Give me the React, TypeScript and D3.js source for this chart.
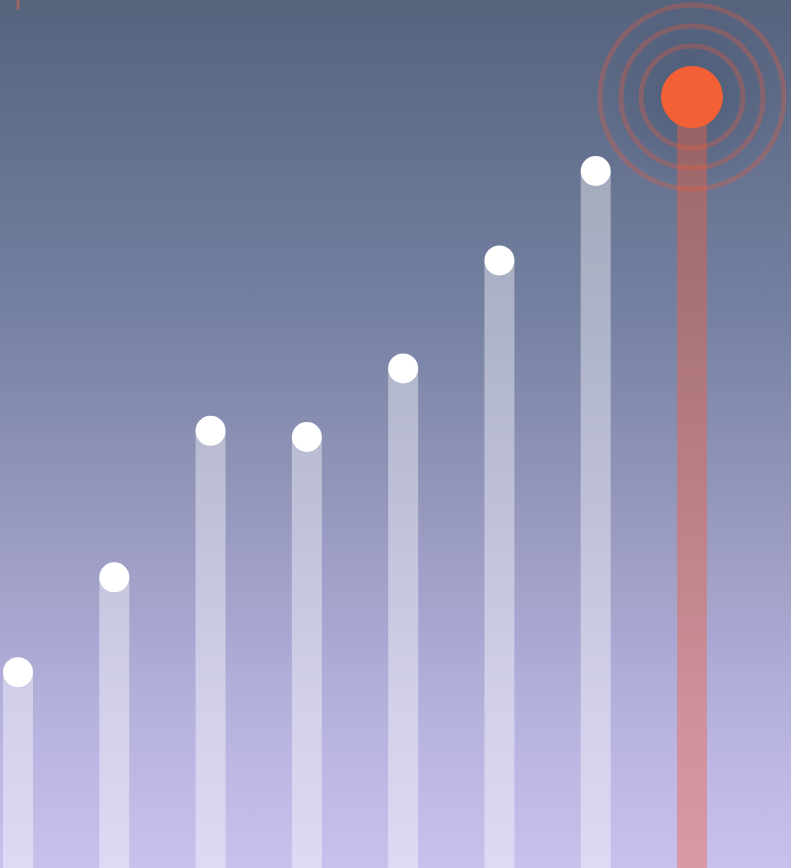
import React, { useEffect, useRef } from 'react';
import * as d3 from 'd3';

// data
const categories = ['A', 'B', 'C', 'D', 'E', 'F', 'G', 'H'];
const values = [25.4, 37.7, 56.7, 55.9, 64.8, 78.8, 90.4, 100];
const highlight = 'H';
const ringRadii = [51, 71, 92];

const W = 791;
const H = 868;

const App = () => {
    const ref = useRef<SVGSVGElement | null>(null);

    useEffect(() => {
        const svg = d3.select(ref.current);
        svg.selectAll('*').remove();

        const defs = svg.append('defs');
        const bg = defs.append('linearGradient').attr('id', 'bg')
            .attr('x1', 0).attr('y1', 0).attr('x2', 0).attr('y2', 1);
        bg.append('stop').attr('offset', '0%').attr('stop-color', '#55637d');
        bg.append('stop').attr('offset', '35%').attr('stop-color', '#7480a0');
        bg.append('stop').attr('offset', '58%').attr('stop-color', '#9597bd');
        bg.append('stop').attr('offset', '81%').attr('stop-color', '#b4b0dc');
        bg.append('stop').attr('offset', '100%').attr('stop-color', '#c8c1ee');

        const glow = defs.append('radialGradient').attr('id', 'glow');
        glow.append('stop').attr('offset', '0%').attr('stop-color', '#3c4a64').attr('stop-opacity', 0.45);
        glow.append('stop').attr('offset', '100%').attr('stop-color', '#3c4a64').attr('stop-opacity', 0);

        svg.append('rect').attr('width', W).attr('height', H).attr('fill', 'url(#bg)');

        const x = d3.scalePoint<string>().domain(categories).range([18, 692]);
        const y = d3.scaleLinear().domain([0, 100]).range([H, 97]);
        const barW = 30;

        const data = categories.map((c, i) => ({ c, v: values[i] }));
        const hl = data.find(d => d.c === highlight)!;

        // glow + rings behind highlight
        svg.append('circle')
            .attr('cx', x(hl.c)!).attr('cy', y(hl.v))
            .attr('r', 95).attr('fill', 'url(#glow)');

        svg.selectAll('.bar')
            .data(data)
            .join('rect')
            .attr('class', 'bar')
            .attr('x', d => x(d.c)! - barW / 2)
            .attr('y', d => y(d.v))
            .attr('width', barW)
            .attr('height', d => H - y(d.v))
            .attr('fill', d => d.c === highlight ? '#f46036' : '#ffffff')
            .attr('opacity', 0.4);

        svg.selectAll('.ring')
            .data(ringRadii)
            .join('circle')
            .attr('class', 'ring')
            .attr('cx', x(hl.c)!).attr('cy', y(hl.v))
            .attr('r', r => r)
            .attr('fill', 'none')
            .attr('stroke', '#f0583a')
            .attr('stroke-width', 5)
            .attr('opacity', 0.3);

        svg.selectAll('.dot')
            .data(data)
            .join('circle')
            .attr('class', 'dot')
            .attr('cx', d => x(d.c)!)
            .attr('cy', d => y(d.v))
            .attr('r', d => d.c === highlight ? 31 : 15)
            .attr('fill', d => d.c === highlight ? '#f46036' : '#ffffff');

        // small marker at top left
        svg.append('line')
            .attr('x1', x(categories[0])!).attr('x2', x(categories[0])!)
            .attr('y1', -4).attr('y2', 8)
            .attr('stroke', '#c0645a').attr('stroke-width', 3)
            .attr('stroke-linecap', 'round').attr('opacity', 0.7);
    }, []);

    return <svg ref={ref} width={W} height={H}
        style={{ position: 'absolute', left: 0, top: 0, display: 'block' }} />;
};

export default App;
